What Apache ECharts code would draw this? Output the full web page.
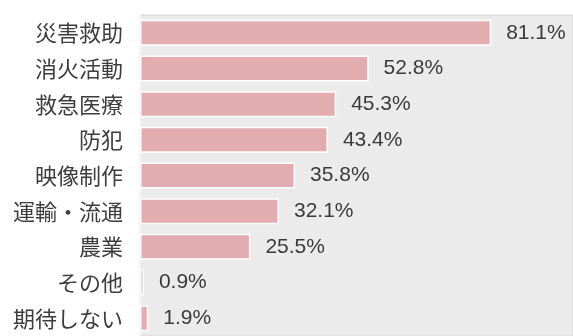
<!DOCTYPE html>
<html>
<head>
<meta charset="utf-8">
<script src="https://cdn.jsdelivr.net/npm/echarts@6/dist/echarts.min.js"></script>
<style>
  html, body { margin: 0; padding: 0; background: #fff; }
  #chart { width: 573px; height: 336px; }
</style>
</head>
<body>
<div id="chart"></div>
<script>
const categories = ['災害救助', '消火活動', '救急医療', '防犯', '映像制作', '運輸・流通', '農業', 'その他', '期待しない'];
const values = [81.1, 52.8, 45.3, 43.4, 35.8, 32.1, 25.5, 0.9, 1.9];

const chart = echarts.init(document.getElementById('chart'));
chart.setOption({
  animation: false,
  grid: {
    left: 140,
    top: 15,
    width: 436,
    height: 328,
    show: true,
    backgroundColor: '#ebebeb',
    borderColor: '#d4d4d4',
    borderWidth: 1
  },
  xAxis: {
    type: 'value',
    min: 0,
    max: 100,
    show: false
  },
  yAxis: {
    type: 'category',
    data: categories,
    inverse: true,
    axisLine: { show: true, lineStyle: { color: '#f7f7f7', width: 2 } },
    axisTick: { show: false },
    axisLabel: {
      margin: 17,
      fontSize: 22,
      color: '#3d3d3d',
      fontFamily: 'Noto Sans CJK JP'
    }
  },
  series: [{
    type: 'bar',
    data: values,
    barCategoryGap: '27%',
    itemStyle: {
      color: '#e3adb0',
      borderColor: '#ffffff',
      borderWidth: 1.5
    },
    label: {
      show: true,
      position: 'right',
      distance: 15,
      fontSize: 21,
      color: '#3a3a3a',
      fontFamily: 'Liberation Sans',
      formatter: p => p.value.toFixed(1) + '%'
    }
  }]
});
</script>
</body>
</html>
